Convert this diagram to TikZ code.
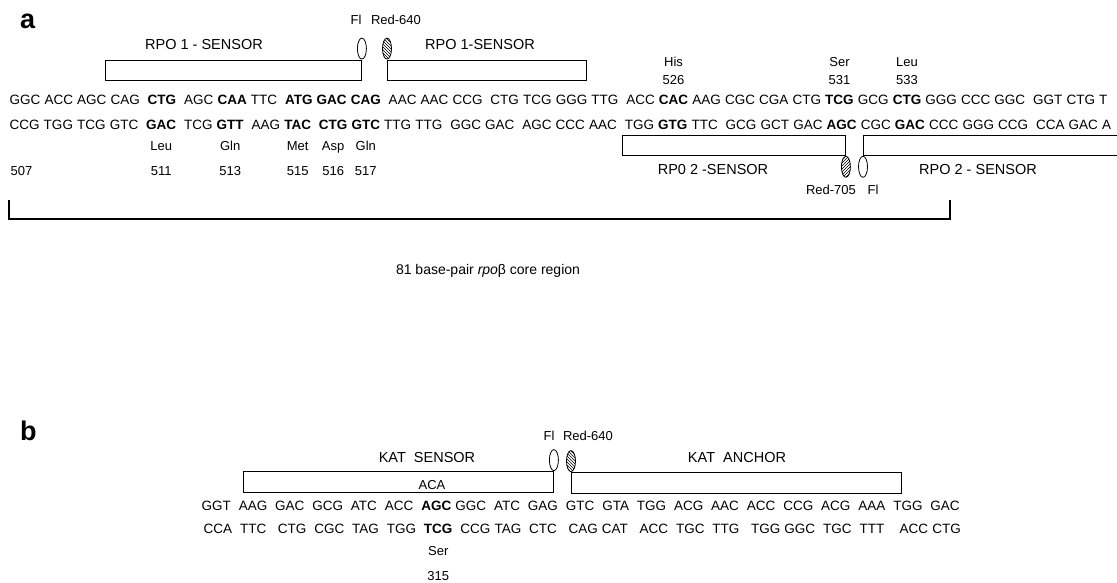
\documentclass[tikz,border=0pt]{standalone}
\usepackage{fontspec}
\setmainfont{Liberation Sans}
\usetikzlibrary{patterns,calc,shapes.geometric}
\newcommand\codonline[4]{%
  \node[inner sep=0pt, anchor=base west] (#1-0) at (#2,#3) {};
  \foreach \g/\t [count=\i, remember=\i as \j (initially 0)] in {#4} {
    \node[seq] (#1-\i) at ([xshift=\g*3.75pt]#1-\j.base east) {\t};
  }%
}
\begin{document}
\begin{tikzpicture}[x=1pt,y=-1pt,
  seq/.style={font=\fontsize{13.5}{16}\selectfont, inner sep=0pt, anchor=base west},
  lbl/.style={font=\fontsize{13}{15}\selectfont, inner sep=0pt, anchor=base},
  ttl/.style={font=\fontsize{14.5}{17}\selectfont, inner sep=0pt, anchor=base},
  panel/.style={font=\fontsize{27}{30}\selectfont\bfseries, inner sep=0pt, anchor=base west},
  probe/.style={draw, line width=0.9pt},
  flu/.style={draw, line width=0.8pt, fill=white, ellipse, minimum width=9pt, minimum height=21pt, inner sep=0pt},
  redA/.style={flu, pattern=north west lines},
  redB/.style={flu, pattern=north east lines},
  brk/.style={line width=2.6pt}
]
\useasboundingbox (0,0) rectangle (1117,582);
\fill[white] (0,0) rectangle (1117,582);

% ---------- panel a ----------
\node[panel] (pa) at (20,28) {a};

\codonline{a1}{8}{104}{0/GGC,1/ACC,1/AGC,1/CAG,2/{\bfseries CTG},2/AGC,1/{\bfseries CAA},1/TTC,2/{\bfseries ATG},1/{\bfseries GAC},1/{\bfseries CAG},2/AAC,1/AAC,1/CCG,2/CTG,1/TCG,1/GGG,1/TTG,2/ACC,1/{\bfseries CAC},1/AAG,1/CGC,1/CGA,1/CTG,1/{\bfseries TCG},1/GCG,1/{\bfseries CTG},1/GGG,1/CCC,1/GGC,2/GGT,1/CTG,1/T}
\codonline{a2}{8}{129}{0/CCG,1/TGG,1/TCG,1/GTC,2/{\bfseries GAC},2/TCG,1/{\bfseries GTT},2/AAG,1/{\bfseries TAC},2/{\bfseries CTG},1/{\bfseries GTC},1/TTG,1/TTG,2/GGC,1/GAC,2/AGC,1/CCC,1/AAC,2/TGG,1/{\bfseries GTG},1/TTC,2/GCG,1/GCT,1/GAC,1/{\bfseries AGC},1/CGC,1/{\bfseries GAC},1/CCC,1/GGG,1/CCG,2/CCA,1/GAC,1/A}

% upper probes
\node[lbl] (fl1) at (356,24) {Fl};
\node[lbl] (red1) at (396,24) {Red-640};
\node[ttl] (rpo1a) at (204,49) {RPO 1 - SENSOR};
\node[ttl] (rpo1b) at (480,49) {RPO 1-SENSOR};
\node[probe, minimum width=256pt, minimum height=20.5pt, inner sep=0pt, anchor=north west] (box1) at (105,59.5) {};
\node[probe, minimum width=199pt, minimum height=20.5pt, inner sep=0pt, anchor=north west] (box2) at (387,59.5) {};
\node[flu, anchor=south] (e1) at (box1.north east) {};
\node[redA, anchor=south] (e2) at (box2.north west) {};

% amino-acid labels above
\node[lbl] (his) at ($(a1-20.base)+(0,-38)$) {His};
\node[lbl] (n526) at ($(a1-20.base)+(0,-20)$) {526};
\node[lbl] (ser) at ($(a1-25.base)+(0,-38)$) {Ser};
\node[lbl] (n531) at ($(a1-25.base)+(0,-20)$) {531};
\node[lbl] (leu2) at ($(a1-27.base)+(0,-38)$) {Leu};
\node[lbl] (n533) at ($(a1-27.base)+(0,-20)$) {533};

% amino-acid labels below
\node[lbl, anchor=base west] (n507) at ($(a2-1.base west)+(1,46)$) {507};
\node[lbl] (leu1) at ($(a2-5.base)+(0,21)$) {Leu};
\node[lbl] (n511) at ($(a2-5.base)+(0,46)$) {511};
\node[lbl] (gln1) at ($(a2-7.base)+(0,21)$) {Gln};
\node[lbl] (n513) at ($(a2-7.base)+(0,46)$) {513};
\node[lbl] (met) at ($(a2-9.base)+(0,21)$) {Met};
\node[lbl] (n515) at ($(a2-9.base)+(0,46)$) {515};
\node[lbl] (asp) at ($(a2-10.base)+(0,21)$) {Asp};
\node[lbl] (n516) at ($(a2-10.base)+(0,46)$) {516};
\node[lbl] (gln2) at ($(a2-11.base)+(0,21)$) {Gln};
\node[lbl] (n517) at ($(a2-11.base)+(0,46)$) {517};

% lower probes
\node[probe, minimum width=223pt, minimum height=20.5pt, inner sep=0pt, anchor=north west] (box3) at (622,134.5) {};
\node[probe, minimum width=260pt, minimum height=20.5pt, inner sep=0pt, anchor=north west] (box4) at (863,134.5) {};
\node[redB, anchor=north] (e3) at (box3.south east) {};
\node[flu, anchor=north] (e4) at (box4.south west) {};
\node[ttl] (rpo2a) at (713,174) {RP0 2 -SENSOR};
\node[ttl] (rpo2b) at (978,174) {RPO 2 - SENSOR};
\node[lbl] (red2) at (831,194) {Red-705};
\node[lbl] (fl2) at (873,194) {Fl};

% bracket
\coordinate (bl) at (9,200);
\coordinate (br) at (950,200);
\draw[brk] (bl) -- (9,219) -- (950,219) -- (br);
\node[lbl, font=\fontsize{14}{16}\selectfont] (core) at (488,274) {81 base-pair \textit{rpo}β core region};

% ---------- panel b ----------
\node[panel] (pb) at (20,440) {b};
\codonline{b1}{200}{510}{0/GGT,2/AAG,2/GAC,2/GCG,2/ATC,2/ACC,2/{\bfseries AGC},1/GGC,2/ATC,2/GAG,2/GTC,2/GTA,2/TGG,2/ACG,2/AAC,2/ACC,2/CCG,2/ACG,2/AAA,2/TGG,2/GAC}
\codonline{b2}{202}{533}{0/CCA,2/TTC,3/CTG,2/CGC,2/TAG,2/TGG,2/{\bfseries TCG},2/CCG,1/TAG,2/CTC,3/CAG,1/CAT,3/ACC,2/TGC,2/TTG,3/TGG,1/GGC,2/TGC,2/TTT,4/ACC,1/CTG}

\node[lbl] (fl3) at (549,440) {Fl};
\node[lbl] (red3) at (588,440) {Red-640};
\node[ttl] (kats) at (427,462) {KAT\ \ SENSOR};
\node[ttl] (kata) at (737,462) {KAT\ \ ANCHOR};
\node[probe, minimum width=310pt, minimum height=21pt, inner sep=0pt, anchor=north west] (box5) at (243,471) {};
\node[probe, minimum width=330pt, minimum height=21pt, inner sep=0pt, anchor=north west] (box6) at (571,472) {};
\node[flu, anchor=south] (e5) at (box5.north east) {};
\node[redA, anchor=south] (e6) at (box6.north west) {};
\node[lbl] (aca) at (432,489) {ACA};
\node[lbl] (serb) at ($(b2-7.base)+(0,22)$) {Ser};
\node[lbl] (n315) at ($(b2-7.base)+(0,47)$) {315};
\end{tikzpicture}
\end{document}
